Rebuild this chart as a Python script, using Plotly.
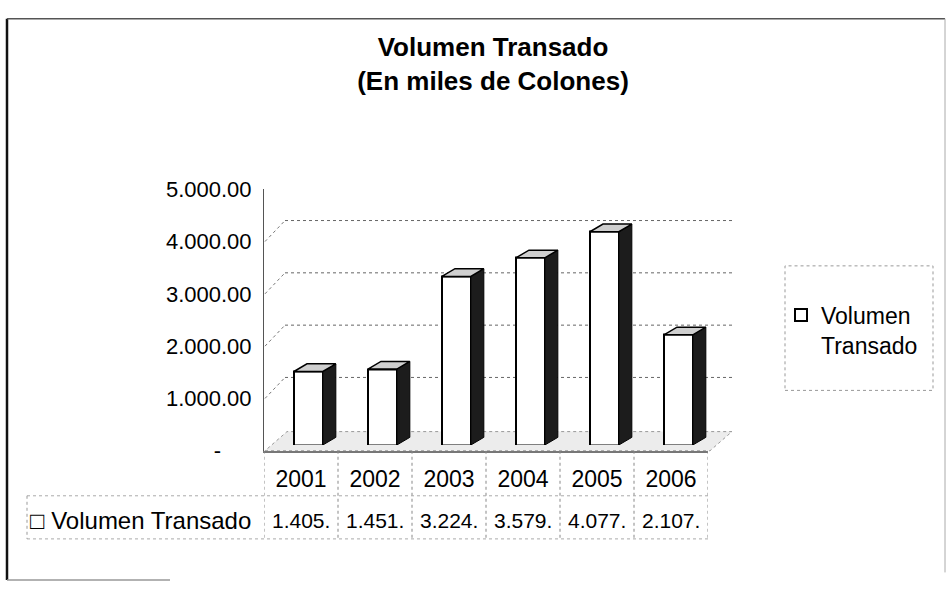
import plotly.graph_objects as go

# ---- data ----
years = ["2001", "2002", "2003", "2004", "2005", "2006"]
volumen = [1405, 1451, 3224, 3579, 4077, 2107]
y_ticks = [0, 1000, 2000, 3000, 4000, 5000]
title_text = "<b>Volumen Transado</b><br><b>(En miles de Colones)</b>"
series_name = "Volumen Transado"

W, H = 951, 595
FONT = "Liberation Sans, Arial, sans-serif"


def px(x):
    return x / W


def py(y):
    return 1 - y / H


def fmt(v):
    return f"{v:,.2f}".replace(",", ".")


tick_text = ["-" + "\u00a0" * 5 if v == 0 else fmt(v) for v in y_ticks]
cell_text = [fmt(v)[:6] for v in volumen]

idx = list(range(len(years)))
BAR_OFF, BAR_W = -0.095, 0.39
DX = 13 / 74.0          # depth in category units
DY = 8 / (273 / 5000)   # depth in value units

fig = go.Figure()

# front faces
fig.add_trace(go.Bar(
    x=idx, y=volumen, offset=BAR_OFF, width=BAR_W,
    marker=dict(color="white", line=dict(color="black", width=2)),
    name="Volumen<br>Transado", showlegend=True,
    xaxis="x2", yaxis="y2", hoverinfo="skip"))

# side and top faces
for i, v in zip(idx, volumen):
    fl = i + BAR_OFF
    fr = fl + BAR_W
    fig.add_trace(go.Scatter(
        x=[fr, fr, fr + DX, fr + DX, fr], y=[0, v, v + DY, DY, 0],
        mode="lines", fill="toself", fillcolor="#1c1c1c",
        line=dict(color="black", width=1), showlegend=False,
        xaxis="x2", yaxis="y2", hoverinfo="skip"))
    fig.add_trace(go.Scatter(
        x=[fl, fr, fr + DX, fl + DX, fl], y=[v, v, v + DY, v + DY, v],
        mode="lines", fill="toself", fillcolor="#cfcfcf",
        line=dict(color="black", width=1.5), showlegend=False,
        xaxis="x2", yaxis="y2", hoverinfo="skip"))

# invisible trace to activate the label subplot
fig.add_trace(go.Scatter(x=idx, y=[None] * len(idx), mode="markers",
                         showlegend=False, hoverinfo="skip"))

shapes = []
# chart border (scanned: dark left/top, faint right, partial bottom)
shapes.append(dict(type="line", xref="paper", yref="paper",
                   x0=px(7), x1=px(7), y0=py(593), y1=py(7),
                   line=dict(color="#111", width=2.5)))
shapes.append(dict(type="line", xref="paper", yref="paper",
                   x0=px(7), x1=px(945), y0=py(7), y1=py(7),
                   line=dict(color="#555", width=1.5)))
shapes.append(dict(type="line", xref="paper", yref="paper",
                   x0=px(945), x1=px(945), y0=py(585), y1=py(7),
                   line=dict(color="#aaa", width=1)))
shapes.append(dict(type="line", xref="paper", yref="paper",
                   x0=px(7), x1=px(170), y0=py(593), y1=py(593),
                   line=dict(color="#999", width=1.5)))
# floor
shapes.append(dict(type="path", xref="paper", yref="paper",
                   path=f"M {px(265)},{py(458)} L {px(710)},{py(458)} L {px(732)},{py(438)} L {px(287)},{py(438)} Z",
                   fillcolor="#ececec", line=dict(color="#999", width=1, dash="dot"),
                   layer="below"))
# back-wall gridlines and left-wall diagonals
for v in y_ticks[1:-1]:
    shapes.append(dict(type="line", xref="paper", yref="y", ysizemode="pixel",
                       yanchor=v, x0=px(285), x1=px(735), y0=21, y1=21,
                       line=dict(color="#666", width=1, dash="dot"), layer="below"))
    shapes.append(dict(type="line", xref="paper", yref="y", ysizemode="pixel",
                       yanchor=v, x0=px(265), x1=px(285), y0=0, y1=21,
                       line=dict(color="#777", width=1, dash="dot"), layer="below"))
# data table lines
for k in range(len(years) + 1):
    shapes.append(dict(type="line", xref="x", yref="paper",
                       x0=k - 0.5, x1=k - 0.5, y0=py(458), y1=py(550),
                       line=dict(color="#888", width=1, dash="dot")))
for yy in (505, 550):
    shapes.append(dict(type="line", xref="paper", yref="paper",
                       x0=px(27), x1=px(708), y0=py(yy), y1=py(yy),
                       line=dict(color="#aaa", width=1, dash="dot")))
shapes.append(dict(type="line", xref="paper", yref="paper",
                   x0=px(27), x1=px(27), y0=py(505), y1=py(550),
                   line=dict(color="#999", width=1, dash="dot")))
# legend box
shapes.append(dict(type="rect", xref="paper", yref="paper",
                   x0=px(785), x1=px(933), y0=py(395), y1=py(265),
                   line=dict(color="#999", width=1, dash="dot")))

annotations = []
for i, t in zip(idx, cell_text):
    annotations.append(dict(x=i, xref="x", y=py(531), yref="paper", text=t,
                            showarrow=False, xanchor="center", yanchor="middle",
                            font=dict(family=FONT, size=21, color="black")))
annotations.append(dict(x=px(253), xref="paper", y=py(531), yref="paper",
                        text="\u25a1 " + series_name, showarrow=False,
                        xanchor="right", yanchor="middle",
                        font=dict(family=FONT, size=24, color="black")))

xdom = [px(264), px(708)]
fig.update_layout(
    width=W, height=H,
    margin=dict(l=0, r=0, t=0, b=0),
    paper_bgcolor="white", plot_bgcolor="rgba(0,0,0,0)",
    font=dict(family=FONT, color="black"),
    title=dict(text=title_text, x=px(493), xanchor="center", y=py(56),
               yanchor="middle", font=dict(family=FONT, size=26, color="black")),
    xaxis=dict(domain=xdom, range=[-0.5, 5.5], tickvals=idx, ticktext=years,
               showgrid=False, zeroline=False, showline=True,
               linecolor="#777", linewidth=2, ticks="",
               ticklabelstandoff=7,
               tickfont=dict(family=FONT, size=23, color="black")),
    yaxis=dict(domain=[py(458), py(185)], range=[0, 5000], tickvals=y_ticks,
               ticktext=tick_text, showgrid=False, zeroline=False,
               showline=True, linecolor="#555", linewidth=1, ticks="",
               ticklabelstandoff=7,
               tickfont=dict(family=FONT, size=22, color="black")),
    xaxis2=dict(domain=xdom, range=[-0.5, 5.5], anchor="y2", visible=False),
    yaxis2=dict(domain=[py(452), py(179)], range=[0, 5000], anchor="x2",
                visible=False),
    legend=dict(x=px(781), y=py(294), xanchor="left", yanchor="top",
                bgcolor="rgba(0,0,0,0)", borderwidth=0, valign="top",
                font=dict(family=FONT, size=23, color="black")),
    shapes=shapes, annotations=annotations,
    bargap=0,
)

fig.write_html("out.html")
